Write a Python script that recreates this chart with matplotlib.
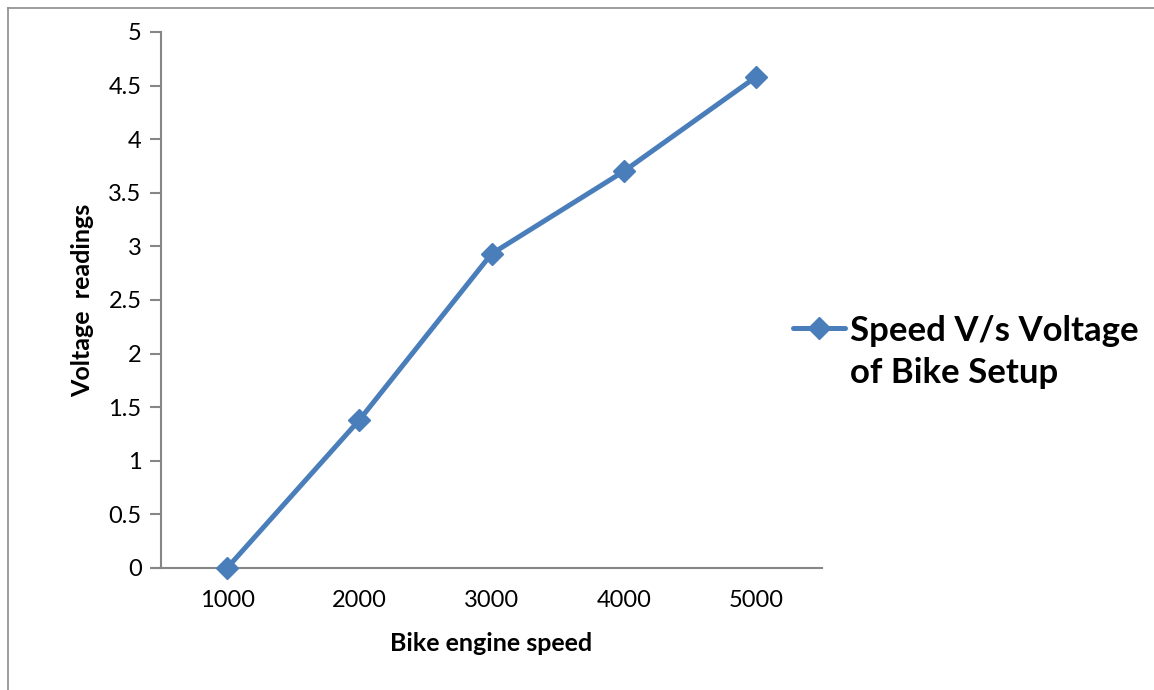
import matplotlib.pyplot as plt
from matplotlib.lines import Line2D

# data
speeds = ["1000", "2000", "3000", "4000", "5000"]
voltages = [0.0, 1.38, 2.93, 3.70, 4.58]
y_ticks = [0, 0.5, 1, 1.5, 2, 2.5, 3, 3.5, 4, 4.5, 5]
series_name = "Speed V/s Voltage\nof Bike Setup"

plt.rcParams["font.family"] = ["Lato", "DejaVu Sans"]

W, H = 1154, 690
fig = plt.figure(figsize=(W / 100, H / 100), dpi=100)

# outer chart frame (only left and top edges are visible)
frame_color = "#8c8c8c"
fig.add_artist(Line2D([8 / W, 8 / W], [0, 1 - 8 / H], color=frame_color, lw=1.2))
fig.add_artist(Line2D([8 / W, 1], [1 - 8 / H, 1 - 8 / H], color=frame_color, lw=1.2))

ax = fig.add_axes([161 / W, 1 - 568 / H, (822 - 161) / W, (568 - 32) / H])

blue = "#4a7ebb"
x = list(range(1, len(speeds) + 1))
ax.plot(x, voltages, color=blue, lw=3.6, marker="D", markersize=11,
        clip_on=False, zorder=3)

ax.set_xlim(0.5, len(speeds) + 0.5)
ax.set_ylim(0, 5)
ax.set_xticks(x)
ax.set_xticklabels(speeds)
ax.set_yticks(y_ticks)
ax.set_yticklabels([f"{v:g}" for v in y_ticks])

axis_color = "#868686"
for side in ["top", "right"]:
    ax.spines[side].set_visible(False)
for side in ["left", "bottom"]:
    ax.spines[side].set_color(axis_color)
    ax.spines[side].set_linewidth(1.5)
ax.spines["bottom"].set_bounds(0.5 - 9 / 132, len(speeds) + 0.5)

ax.tick_params(axis="y", length=8, width=1.5, color=axis_color,
               labelsize=17, pad=6)
ax.tick_params(axis="x", length=0, labelsize=17, pad=16)

ax.set_xlabel("Bike engine speed", fontsize=18, fontweight="bold", labelpad=15)
ax.set_ylabel("Voltage  readings", fontsize=18, fontweight="bold", labelpad=10)

# legend drawn by hand to the right of the plot
fig.add_artist(Line2D([793 / W, 845 / W], [1 - 328 / H, 1 - 328 / H],
                      color=blue, lw=3.6, solid_capstyle="round"))
fig.add_artist(Line2D([819 / W], [1 - 328 / H], color=blue, marker="D",
                      markersize=11, lw=0))
fig.text(850 / W, 1 - 352 / H, series_name, fontsize=25, fontweight="bold",
         ha="left", va="center", linespacing=1.4)

fig.savefig("out.png", dpi=100)
